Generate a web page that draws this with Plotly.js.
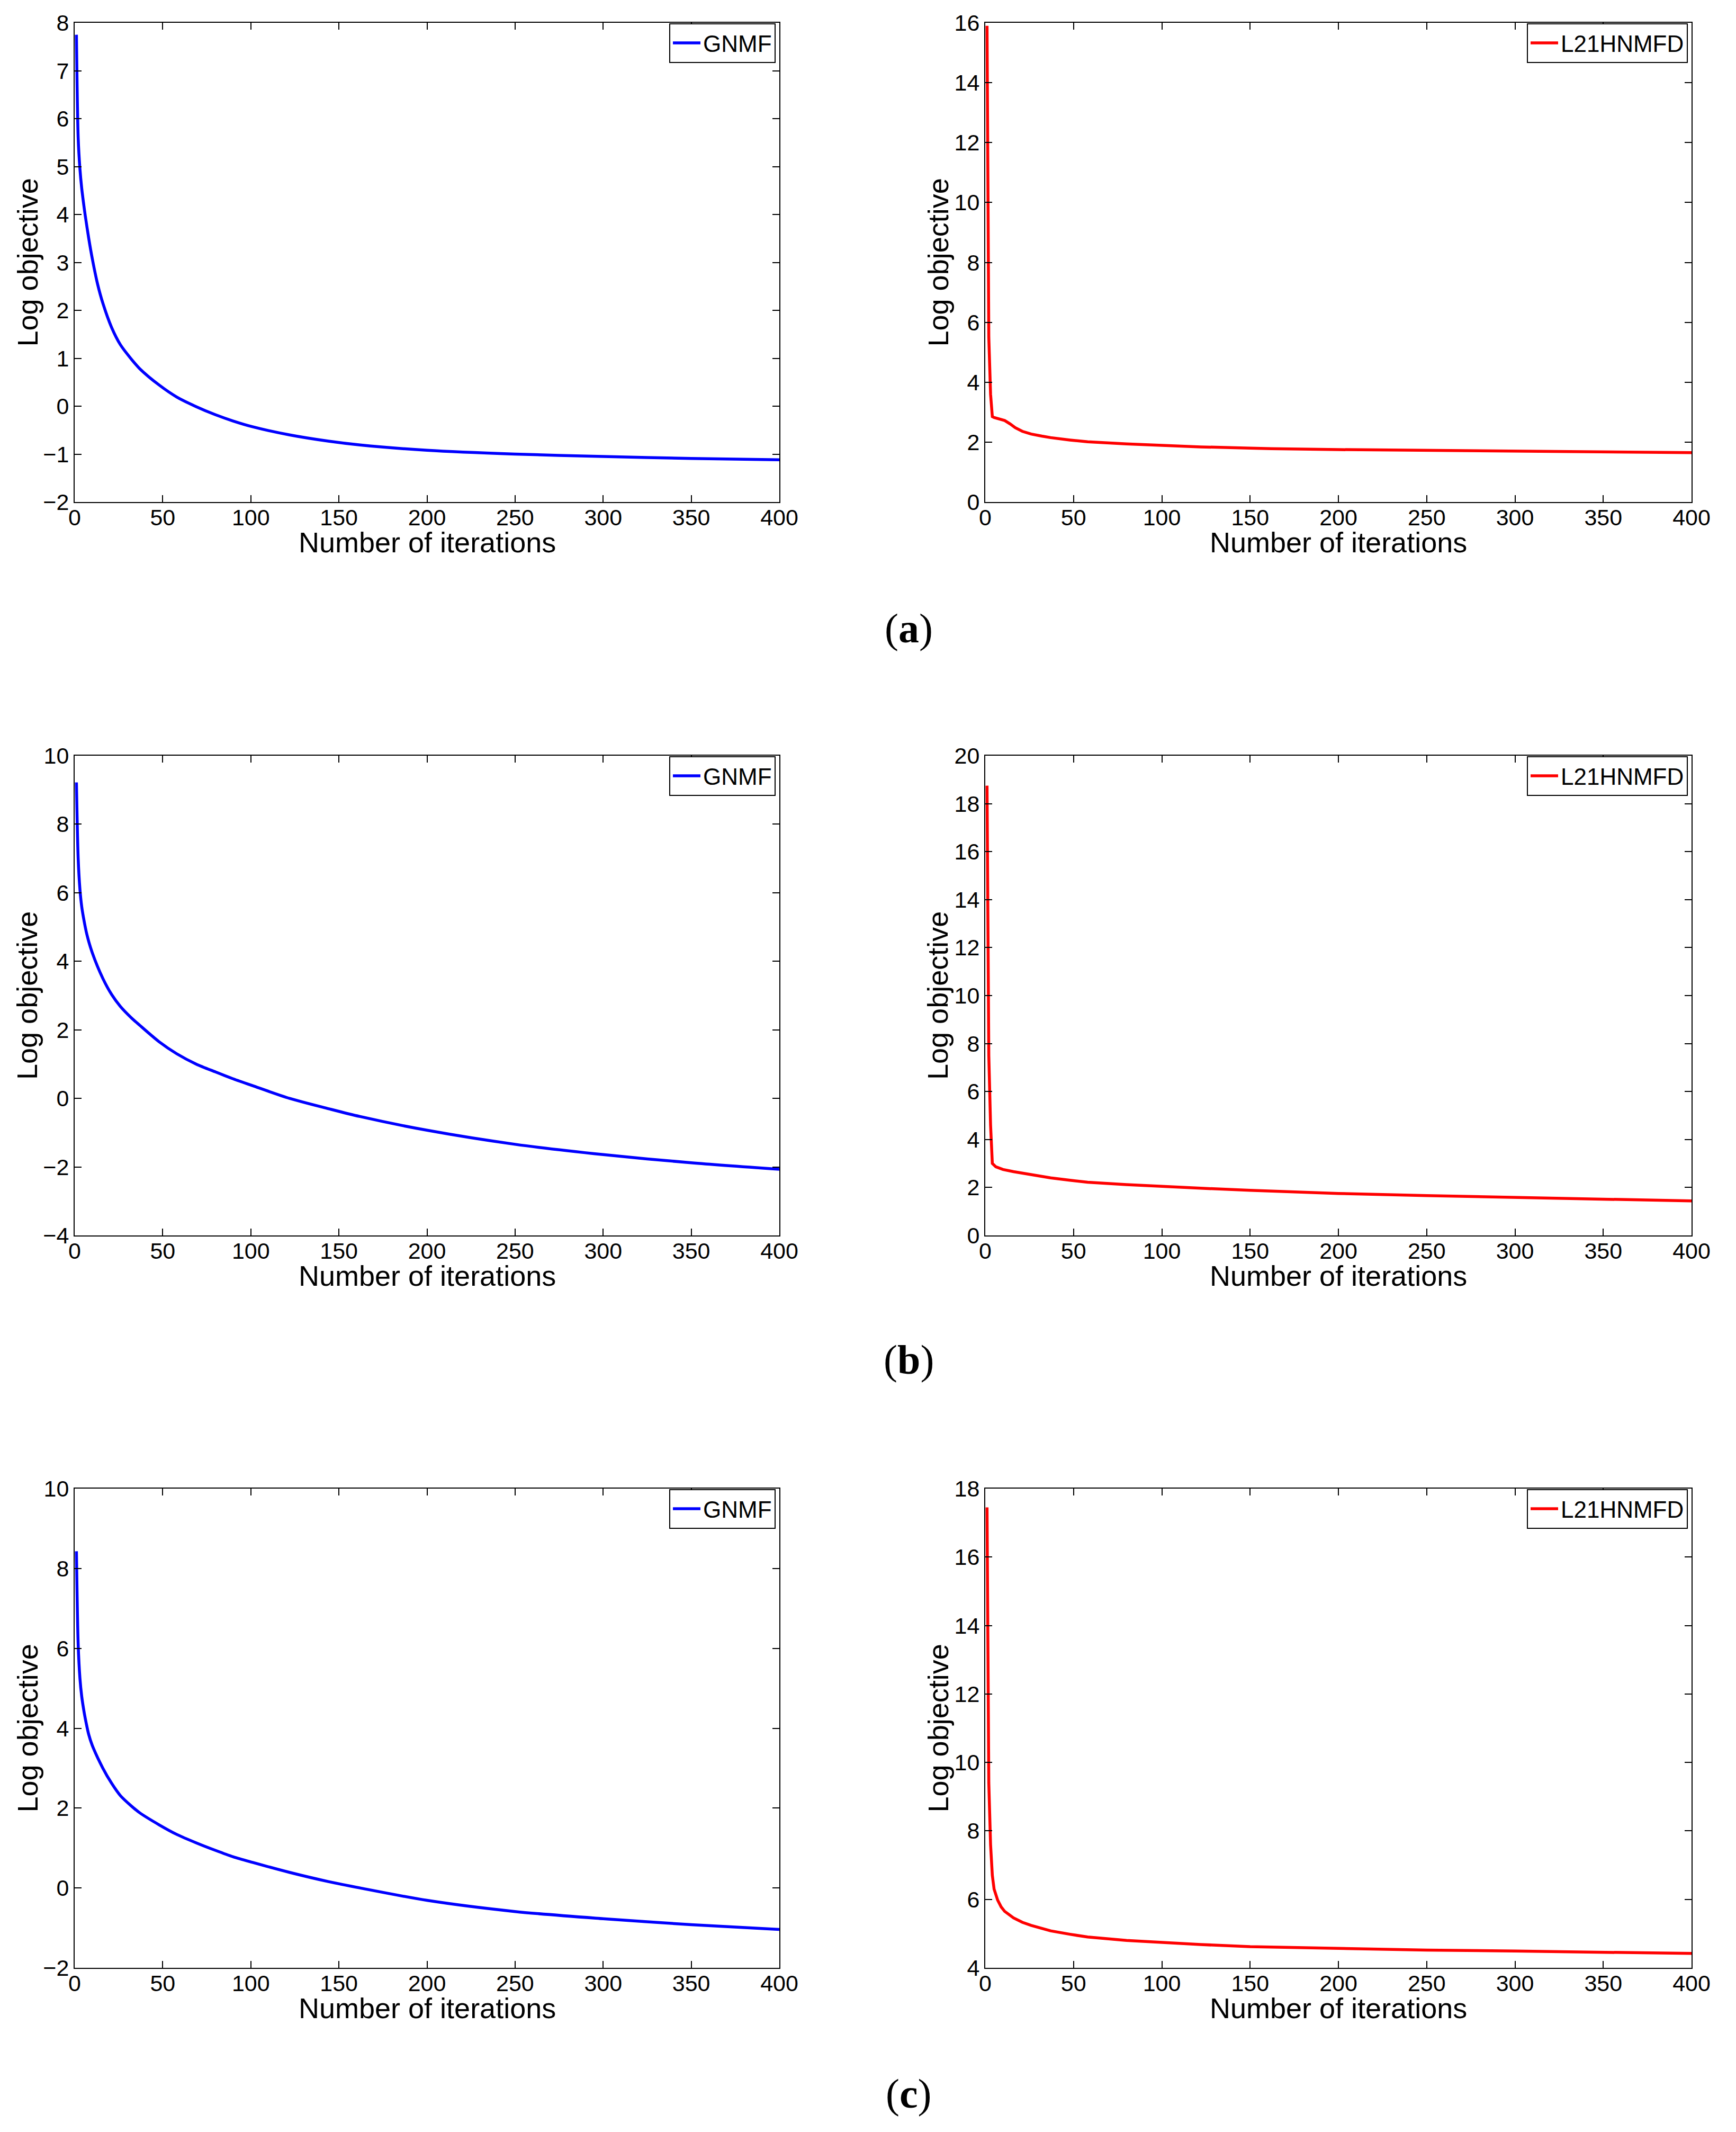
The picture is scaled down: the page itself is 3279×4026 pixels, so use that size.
<!DOCTYPE html>
<html>
<head>
<meta charset="utf-8">
<script src="https://cdn.plot.ly/plotly-3.0.1.min.js"></script>
<style>
  html, body { margin: 0; padding: 0; background: #ffffff; }
  #chart { width: 3279px; height: 4026px; }
</style>
</head>
<body>
<div id="chart"></div>
<script>
// values (iteration -> log objective)
const gnmfIterA = [1, 2, 3, 4, 5, 6, 8, 10, 13, 16, 21, 26, 32, 37, 48, 58, 69, 80, 90, 101, 122, 144, 162, 200, 250, 300, 350, 400];
const gnmfLogA = [7.75, 5.6, 4.95, 4.55, 4.25, 3.98, 3.5, 3.08, 2.55, 2.15, 1.64, 1.28, 0.99, 0.78, 0.44, 0.19, -0.01, -0.18, -0.31, -0.43, -0.6, -0.73, -0.81, -0.92, -1.0, -1.05, -1.09, -1.12];

const l21IterA = [1, 2, 3, 4, 5, 8, 11, 14, 17, 21, 26, 32, 37, 48, 58, 80, 101, 122, 150, 162, 200, 250, 300, 350, 400];
const l21LogA = [15.9, 5.5, 3.6, 2.85, 2.82, 2.78, 2.72, 2.61, 2.48, 2.36, 2.27, 2.2, 2.15, 2.07, 2.01, 1.94, 1.88, 1.84, 1.8, 1.78, 1.75, 1.72, 1.69, 1.67, 1.65];

const gnmfIterB = [1, 2, 3, 4, 5, 7, 10, 16, 21, 26, 32, 37, 48, 58, 69, 80, 90, 101, 122, 144, 162, 200, 250, 300, 350, 400];
const gnmfLogB = [9.22, 7.0, 6.1, 5.6, 5.28, 4.77, 4.25, 3.5, 3.03, 2.68, 2.36, 2.13, 1.65, 1.3, 1.0, 0.77, 0.57, 0.37, 0.0, -0.3, -0.53, -0.93, -1.34, -1.64, -1.88, -2.07];

const l21IterB = [1, 2, 3, 4, 6, 10, 16, 26, 37, 48, 58, 80, 101, 122, 150, 162, 200, 250, 300, 350, 400];
const l21LogB = [18.75, 7.5, 4.6, 3.0, 2.86, 2.75, 2.66, 2.53, 2.4, 2.3, 2.22, 2.12, 2.03, 1.97, 1.88, 1.85, 1.75, 1.66, 1.58, 1.5, 1.44];

const gnmfIterC = [1, 2, 3, 4, 5, 6, 8, 10, 16, 21, 26, 32, 37, 48, 58, 69, 80, 90, 101, 122, 144, 162, 200, 250, 300, 350, 400];
const gnmfLogC = [8.43, 6.1, 5.25, 4.8, 4.5, 4.25, 3.84, 3.57, 3.0, 2.62, 2.31, 2.06, 1.88, 1.58, 1.34, 1.13, 0.94, 0.78, 0.64, 0.39, 0.16, 0.0, -0.31, -0.59, -0.77, -0.92, -1.04];

const l21IterC = [1, 2, 3, 4, 5, 7, 9, 11, 16, 21, 26, 37, 48, 58, 80, 101, 122, 150, 200, 250, 300, 350, 400];
const l21LogC = [17.45, 9.4, 7.6, 6.7, 6.3, 5.98, 5.78, 5.65, 5.46, 5.33, 5.24, 5.08, 4.98, 4.9, 4.8, 4.73, 4.68, 4.62, 4.56, 4.52, 4.49, 4.46, 4.42];

const seriesNames = ["GNMF", "L21HNMFD"];
const captions = ["a", "b", "c"];
const yRanges = [[-2, 8], [0, 16], [-4, 10], [0, 20], [-2, 10], [4, 18]];
const yDticks = [1, 2, 2, 2, 2, 2];

const W = 3279;
const H = 4026;
const colLeft = [141, 1861];
const colRight = [1472, 3195];
const rowTop = [43, 1427, 2811];
const rowBottom = [948, 2333, 3716];
const captionY = [1186, 2567, 3953];

const panels = [
  { x: gnmfIterA, y: gnmfLogA, name: 0 },
  { x: l21IterA, y: l21LogA, name: 1 },
  { x: gnmfIterB, y: gnmfLogB, name: 0 },
  { x: l21IterB, y: l21LogB, name: 1 },
  { x: gnmfIterC, y: gnmfLogC, name: 0 },
  { x: l21IterC, y: l21LogC, name: 1 },
];

const px = (v) => v / W;
const py = (v) => 1 - v / H;

const tickFont = { family: "Liberation Sans, Arial, sans-serif", size: 43, color: "#000000" };
const titleFont = { family: "Liberation Sans, Arial, sans-serif", size: 54, color: "#000000" };

const data = [];
const layout = {
  width: W,
  height: H,
  margin: { l: 0, r: 0, t: 0, b: 0 },
  paper_bgcolor: "#ffffff",
  plot_bgcolor: "#ffffff",
  showlegend: true,
  annotations: [],
};

panels.forEach((panel, i) => {
  const col = i % 2;
  const row = Math.floor(i / 2);
  const n = i + 1;
  const suffix = n === 1 ? "" : String(n);
  const legendKey = "legend" + suffix;
  const isRed = panel.name === 1;

  data.push({
    type: "scatter",
    mode: "lines",
    x: panel.x,
    y: panel.y,
    name: seriesNames[panel.name],
    xaxis: "x" + suffix,
    yaxis: "y" + suffix,
    legend: legendKey,
    line: isRed
      ? { color: "#ff0000", width: 5.5 }
      : { color: "#0000ff", width: 5.5, shape: "spline", smoothing: 0.8 },
  });

  const axisCommon = {
    showgrid: false,
    zeroline: false,
    showline: true,
    linecolor: "#000000",
    linewidth: 2,
    mirror: "ticks",
    ticks: "inside",
    ticklen: 13,
    tickwidth: 2,
    tickcolor: "#000000",
    tickfont: tickFont,
  };

  layout["xaxis" + suffix] = {
    ...axisCommon,
    domain: [px(colLeft[col]), px(colRight[col])],
    anchor: "y" + suffix,
    range: [0, 400],
    tickmode: "linear",
    tick0: 0,
    dtick: 50,
    ticklabelstandoff: -10,
  };
  layout["yaxis" + suffix] = {
    ...axisCommon,
    domain: [py(rowBottom[row]), py(rowTop[row])],
    anchor: "x" + suffix,
    range: yRanges[i],
    tickmode: "linear",
    tick0: yRanges[i][0],
    dtick: yDticks[i],
    ticklabelstandoff: 0,
  };

  layout[legendKey] = {
    x: px(colRight[col] - 7),
    y: py(rowTop[row] + 1),
    xanchor: "right",
    yanchor: "top",
    bgcolor: "#ffffff",
    bordercolor: "#000000",
    borderwidth: 2,
    font: { family: "Liberation Sans, Arial, sans-serif", size: 44, color: "#000000" },
    itemwidth: 52,
    tracegroupgap: 0,
  };

  layout.annotations.push({
    xref: "paper", yref: "paper",
    x: px(colLeft[col] - 90),
    y: py((rowTop[row] + rowBottom[row]) / 2),
    text: "Log objective",
    textangle: -90,
    showarrow: false,
    xanchor: "center", yanchor: "middle",
    font: titleFont,
  });
  layout.annotations.push({
    xref: "paper", yref: "paper",
    x: px((colLeft[col] + colRight[col]) / 2),
    y: py(rowBottom[row] + 76),
    text: "Number of iterations",
    showarrow: false,
    xanchor: "center", yanchor: "middle",
    font: titleFont,
  });
});

captions.forEach((letter, row) => {
  layout.annotations.push({
    xref: "paper", yref: "paper",
    x: px(1716),
    y: py(captionY[row]),
    text: "(<b>" + letter + "</b>)",
    showarrow: false,
    xanchor: "center", yanchor: "middle",
    font: { family: "Liberation Serif, Times New Roman, serif", size: 78, color: "#000000" },
  });
});

Plotly.newPlot("chart", data, layout, { displayModeBar: false, staticPlot: true });
</script>
</body>
</html>
